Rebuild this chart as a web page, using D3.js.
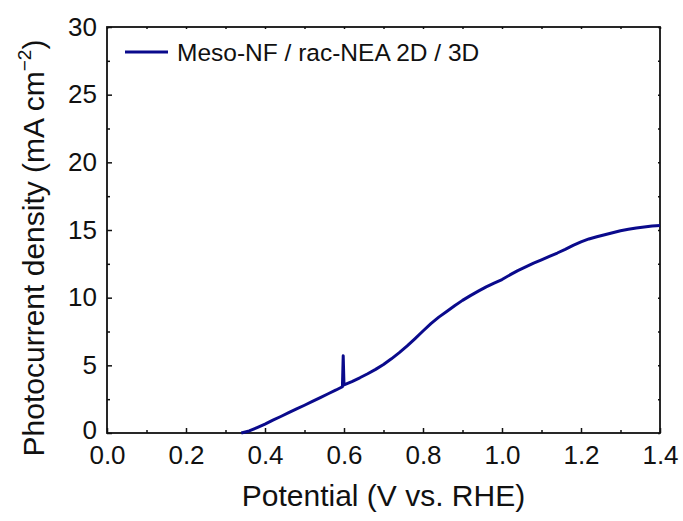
<!DOCTYPE html>
<html>
<head>
<meta charset="utf-8">
<script src="https://cdn.jsdelivr.net/npm/d3@7"></script>
<style>
    body { margin: 0; background: #fff; }
    svg { font-family: "Liberation Sans", Arial, sans-serif; }
</style>
</head>
<body>
<div id="chart"></div>
<script>
// data
const potential = [0.340, 0.36, 0.38, 0.40, 0.42, 0.44, 0.46, 0.48, 0.50, 0.52, 0.54, 0.56, 0.58, 0.596, 0.598, 0.600,
    0.62, 0.64, 0.66, 0.68, 0.70, 0.72, 0.74, 0.76, 0.78, 0.80, 0.82, 0.84, 0.86, 0.88, 0.90, 0.92, 0.94, 0.96, 0.98,
    1.00, 1.02, 1.04, 1.06, 1.08, 1.10, 1.12, 1.14, 1.16, 1.18, 1.20, 1.22, 1.24, 1.26, 1.28, 1.30, 1.32, 1.34, 1.36, 1.38, 1.40];
const current = [0.0, 0.15, 0.4, 0.66, 0.95, 1.22, 1.5, 1.78, 2.05, 2.33, 2.62, 2.9, 3.18, 3.42, 5.7, 3.55,
    3.8, 4.08, 4.38, 4.7, 5.06, 5.48, 5.94, 6.44, 6.98, 7.54, 8.08, 8.56, 8.98, 9.4, 9.8, 10.15, 10.48, 10.8, 11.08,
    11.34, 11.68, 12.0, 12.28, 12.55, 12.8, 13.05, 13.3, 13.57, 13.86, 14.12, 14.34, 14.5, 14.65, 14.8, 14.95, 15.05, 15.15, 15.22, 15.3, 15.33];
const seriesName = "Meso-NF / rac-NEA 2D / 3D";
const xTicks = [0.0, 0.2, 0.4, 0.6, 0.8, 1.0, 1.2, 1.4];
const xMinor = [0.1, 0.3, 0.5, 0.7, 0.9, 1.1, 1.3];
const yTicks = [0, 5, 10, 15, 20, 25, 30];
const yMinor = [2.5, 7.5, 12.5, 17.5, 22.5, 27.5];

const data = potential.map((p, i) => ({ x: p, y: current[i] }));

const W = 683, H = 521;
const margin = { top: 27, right: 23, bottom: 88, left: 107 };
const width = W - margin.left - margin.right;
const height = H - margin.top - margin.bottom;

const svg = d3.select("#chart")
    .append("svg")
    .attr("width", W)
    .attr("height", H)
    .append("g")
    .attr("transform", `translate(${margin.left},${margin.top})`);

const x = d3.scaleLinear().domain([0, 1.4]).range([0, width]);
const y = d3.scaleLinear().domain([0, 30]).range([height, 0]);

// bottom axis
const xAxis = svg.append("g")
    .attr("transform", `translate(0,${height})`)
    .call(d3.axisBottom(x).tickValues(xTicks).tickFormat(d3.format(".1f")).tickSizeInner(-5).tickSizeOuter(0).tickPadding(13));
xAxis.selectAll("text").attr("font-size", 26).attr("fill", "#111");
svg.append("g")
    .attr("transform", `translate(0,${height})`)
    .call(d3.axisBottom(x).tickValues(xMinor).tickFormat("").tickSizeInner(-3).tickSizeOuter(0));

// left axis
const yAxis = svg.append("g")
    .call(d3.axisLeft(y).tickValues(yTicks).tickSizeInner(-5).tickSizeOuter(0).tickPadding(10));
yAxis.selectAll("text").attr("font-size", 26).attr("fill", "#111");
// the zero label sits a little higher so it clears "0.0"
yAxis.selectAll(".tick").filter(d => d === 0).select("text").attr("dy", "0.2em");
svg.append("g")
    .call(d3.axisLeft(y).tickValues(yMinor).tickFormat("").tickSizeInner(-3).tickSizeOuter(0));

// top and right mirror ticks
svg.append("g")
    .call(d3.axisTop(x).tickValues(xTicks.concat(xMinor)).tickFormat("").tickSizeInner(-2).tickSizeOuter(0));
svg.append("g")
    .attr("transform", `translate(${width},0)`)
    .call(d3.axisRight(y).tickValues(yTicks.concat(yMinor)).tickFormat("").tickSizeInner(-2).tickSizeOuter(0));

svg.selectAll(".domain").remove();
svg.selectAll(".tick line").attr("stroke", "#111").attr("stroke-width", 1.5);

// frame
svg.append("rect")
    .attr("width", width)
    .attr("height", height)
    .attr("fill", "none")
    .attr("stroke", "#111")
    .attr("stroke-width", 1.8);

// curve
svg.append("path")
    .datum(data)
    .attr("fill", "none")
    .attr("stroke", "#0a0a8c")
    .attr("stroke-width", 3)
    .attr("stroke-linejoin", "round")
    .attr("d", d3.line().x(d => x(d.x)).y(d => y(d.y)));

// legend
svg.append("line")
    .attr("x1", 18).attr("x2", 61)
    .attr("y1", 25).attr("y2", 25)
    .attr("stroke", "#0a0a8c")
    .attr("stroke-width", 3);
svg.append("text")
    .attr("x", 70)
    .attr("y", 34)
    .attr("font-size", 24.5)
    .attr("fill", "#111")
    .text(seriesName);

// x axis label
svg.append("text")
    .attr("text-anchor", "middle")
    .attr("x", width / 2)
    .attr("y", height + 73)
    .attr("font-size", 30)
    .attr("fill", "#111")
    .text("Potential (V vs. RHE)");

// y axis label
const yLabel = svg.append("text")
    .attr("text-anchor", "middle")
    .attr("transform", `translate(${44 - margin.left},${248 - margin.top}) rotate(-90)`)
    .attr("font-size", 30)
    .attr("fill", "#111");
yLabel.append("tspan").text("Photocurrent density (mA cm");
yLabel.append("tspan").attr("font-size", 19).attr("dy", -13).text("\u22122");
yLabel.append("tspan").attr("dy", 13).text(")");
</script>
</body>
</html>
